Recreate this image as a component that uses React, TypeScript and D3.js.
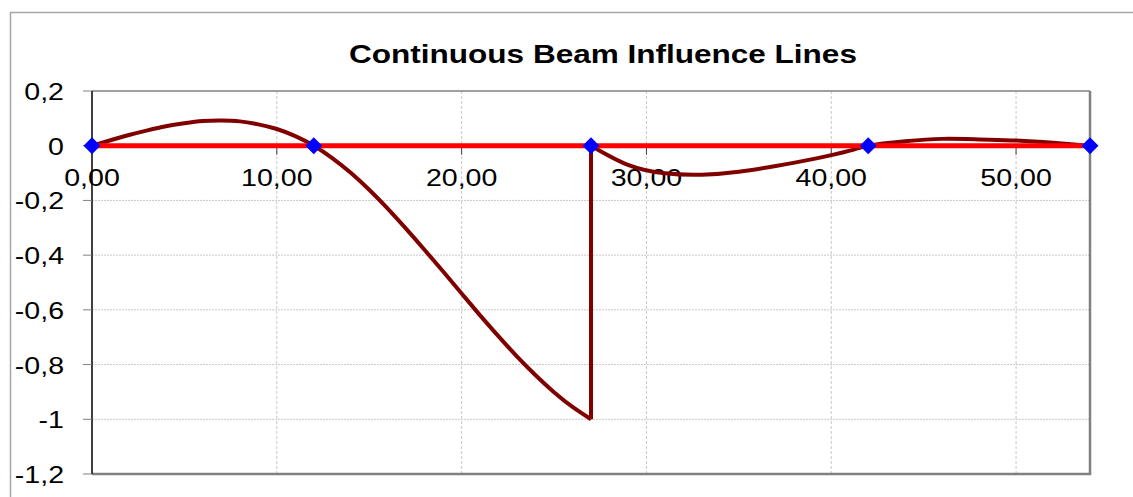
import React from "react";
import * as d3 from "d3";

const title = "Continuous Beam Influence Lines";
const supportsX = [0, 12, 27, 42, 54];
const baselineX = [0, 54];
const baselineY = [0, 0];
const xTicks = [0, 10, 20, 30, 40, 50];
const yTicks = [0.2, 0, -0.2, -0.4, -0.6, -0.8, -1, -1.2];

// influence line, left part (0..27)
const ilLeftX = [0, 1, 2, 3, 4, 5, 6, 7, 8, 9, 10, 11, 12, 13, 14, 15, 16, 17, 18, 19, 20, 21, 22, 23, 24, 25, 26, 27];
const ilLeftY = [0, 0.020, 0.039, 0.056, 0.071, 0.082, 0.090, 0.092, 0.089, 0.078, 0.061, 0.035, 0, -0.045, -0.099, -0.161, -0.230, -0.304, -0.381, -0.460, -0.540, -0.620, -0.697, -0.771, -0.839, -0.901, -0.955, -1.0];
// influence line, right part (27..54)
const ilRightX = [27, 29, 31, 33, 35, 37, 39, 41, 42, 44, 46, 48, 50, 52, 54];
const ilRightY = [0, -0.07, -0.101, -0.106, -0.095, -0.074, -0.049, -0.018, 0, 0.016, 0.025, 0.023, 0.019, 0.011, 0];

const fmtX = (v: number) => v.toFixed(2).replace(".", ",");
const fmtY = (v: number) => {
  const r = Math.round(v * 10) / 10;
  return String(r).replace(".", ",");
};

const SX = 1.19;

function T(props: { x: number; y: number; anchor: string; size: number; bold?: boolean; children: React.ReactNode }) {
  return (
    <text
      transform={`translate(${props.x},${props.y}) scale(${SX},1)`}
      textAnchor={props.anchor}
      fontFamily="'Liberation Sans', Arial, sans-serif"
      fontWeight={props.bold ? "bold" : "normal"}
      fontSize={props.size}
    >
      {props.children}
    </text>
  );
}

export default function App() {
  const W = 1133, H = 497;
  const L = 92, R = 1090, Tp = 91, B = 474;
  const x = d3.scaleLinear().domain([0, 54]).range([L, R]);
  const y = d3.scaleLinear().domain([-1.2, 0.2]).range([B, Tp]);
  const line = d3.line<[number, number]>().x(d => x(d[0])).y(d => y(d[1])).curve(d3.curveNatural);
  const straight = d3.line<[number, number]>().x(d => x(d[0])).y(d => y(d[1]));
  const leftPts = ilLeftX.map((v, i) => [v, ilLeftY[i]] as [number, number]);
  const rightPts = ilRightX.map((v, i) => [v, ilRightY[i]] as [number, number]);
  const jumpPts: [number, number][] = [[ilLeftX[ilLeftX.length - 1], ilLeftY[ilLeftY.length - 1]], [ilRightX[0], ilRightY[0]]];
  const basePts = baselineX.map((v, i) => [v, baselineY[i]] as [number, number]);
  const d = 8.5;
  return (
    <svg width={W} height={H} style={{ position: "absolute", left: 0, top: 0 }}>
      <rect x={0} y={0} width={W} height={H} fill="#fff" />
      <rect x={10.5} y={12.5} width={W + 20} height={H + 20} fill="#fff" stroke="#a6a6a6" strokeWidth={1.5} />
      <T x={603} y={63} anchor="middle" size={26.5} bold>{title}</T>
      {yTicks.filter(v => v < 0.15 && v > -1.15 && Math.abs(v) > 1e-9).map(v => (
        <line key={"gy" + v} x1={L} x2={R} y1={y(v)} y2={y(v)} stroke="#c8c8c8" strokeWidth={1} strokeDasharray="2,1" />
      ))}
      {xTicks.filter(v => v > 0).map(v => (
        <line key={"gx" + v} x1={x(v)} x2={x(v)} y1={Tp} y2={B} stroke="#c8c8c8" strokeWidth={1} strokeDasharray="3,2" />
      ))}
      <line x1={L} x2={R} y1={Tp} y2={Tp} stroke="#808080" strokeWidth={1.5} />
      <line x1={R} x2={R} y1={Tp} y2={B + 1} stroke="#808080" strokeWidth={2.5} />
      <line x1={L} x2={R + 1} y1={B} y2={B} stroke="#808080" strokeWidth={2.5} />
      <line x1={L} x2={L} y1={Tp} y2={B} stroke="#000" strokeWidth={1.5} />
      {yTicks.map(v => (
        <g key={"yt" + v}>
          <line x1={L - 9} x2={L} y1={y(v)} y2={y(v)} stroke="#808080" strokeWidth={1} />
          <T x={64} y={y(v) + 9} anchor="end" size={24}>{fmtY(v)}</T>
        </g>
      ))}
      <line x1={L} x2={R} y1={y(0)} y2={y(0)} stroke="#000" strokeWidth={1} />
      {xTicks.map(v => (
        <g key={"xt" + v}>
          <line x1={x(v)} x2={x(v)} y1={y(0)} y2={y(0) + 9} stroke="#404040" strokeWidth={1} />
          <T x={x(v)} y={y(0) + 40} anchor="middle" size={24}>{fmtX(v)}</T>
        </g>
      ))}
      <path d={line(leftPts) || ""} fill="none" stroke="#800000" strokeWidth={4} />
      <path d={straight(jumpPts) || ""} fill="none" stroke="#800000" strokeWidth={4} />
      <path d={line(rightPts) || ""} fill="none" stroke="#800000" strokeWidth={4} />
      <path d={straight(basePts) || ""} fill="none" stroke="#ff0000" strokeWidth={5} />
      {supportsX.map(v => (
        <path key={"s" + v} d={`M${x(v)},${y(0) - d}L${x(v) + d},${y(0)}L${x(v)},${y(0) + d}L${x(v) - d},${y(0)}Z`} fill="#0000ff" />
      ))}
    </svg>
  );
}
